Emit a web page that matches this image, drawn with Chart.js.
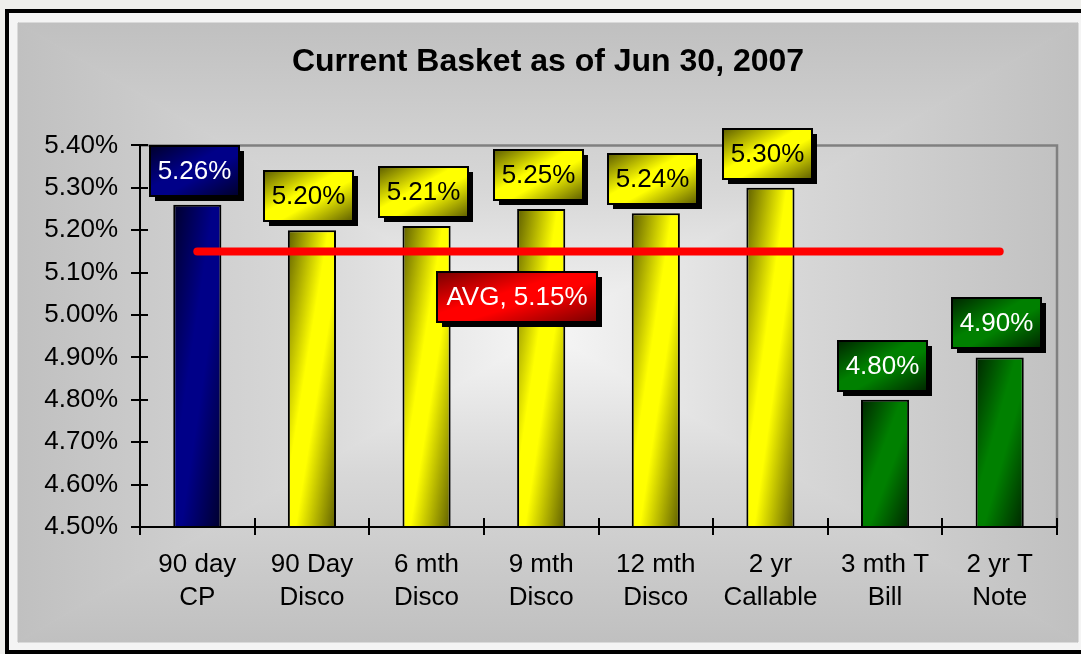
<!DOCTYPE html>
<html>
<head>
<meta charset="utf-8">
<title>Current Basket as of Jun 30, 2007</title>
<script src="https://cdn.jsdelivr.net/npm/chart.js@4.4.0/dist/chart.umd.min.js"></script>
<style>
    html, body { margin: 0; padding: 0; background: #efefec; }
    canvas { display: block; }
</style>
</head>
<body>
<canvas id="basketChart" width="1081" height="654"></canvas>
<script>
// Basket data
const categories = [
    ['90 day', 'CP'],
    ['90 Day', 'Disco'],
    ['6 mth', 'Disco'],
    ['9 mth', 'Disco'],
    ['12 mth', 'Disco'],
    ['2 yr', 'Callable'],
    ['3 mth T', 'Bill'],
    ['2 yr T', 'Note']
];
const rates = [5.26, 5.20, 5.21, 5.25, 5.24, 5.30, 4.80, 4.90];
const groups = ['cp', 'disco', 'disco', 'disco', 'disco', 'disco', 'treasury', 'treasury'];
const average = 5.15;
const averageLine = categories.map(() => average);

// Axis range
const yMin = 4.5;
const yMax = 5.4;
const yStep = 0.1;

// Where the AVG tag sits along the category axis
const avgLabelAt = 2.79;

const FONT = "'Liberation Sans', Arial, sans-serif";
const BAR_FRACTION = 0.42;

const palettes = {
    cp:       { dark: '#00002c', light: '#000088', text: '#ffffff' },
    disco:    { dark: '#5e5e00', light: '#ffff00', text: '#000000' },
    treasury: { dark: '#002600', light: '#008000', text: '#ffffff' },
    avg:      { dark: '#780000', light: '#ff0000', text: '#ffffff' }
};

// Diagonal shading: dark corner -> bright middle -> dark corner, stretched to the box
function diagGradient(ctx, x0, y0, w, h, pal) {
    const gx = 1 / (2 * w);
    const gy = 1 / (2 * h);
    const n = gx * gx + gy * gy;
    const g = ctx.createLinearGradient(x0, y0, x0 + gx / n, y0 + gy / n);
    g.addColorStop(0, pal.dark);
    g.addColorStop(0.42, pal.light);
    g.addColorStop(0.58, pal.light);
    g.addColorStop(1, pal.dark);
    return g;
}

// Gray panel shaded from the center outwards
function boxShade(ctx, x0, y0, w, h) {
    const cx = x0 + w / 2, cy = y0 + h / 2;
    const corners = [[x0, y0], [x0 + w, y0], [x0 + w, y0 + h], [x0, y0 + h]];
    const mids = [[cx, y0], [x0 + w, cy], [cx, y0 + h], [x0, cy]];
    for (let k = 0; k < 4; k++) {
        const a = corners[k], b = corners[(k + 1) % 4], m = mids[k];
        const g = ctx.createLinearGradient(cx, cy, m[0], m[1]);
        g.addColorStop(0, '#f6f6f6');
        g.addColorStop(0.45, '#d8d8d8');
        g.addColorStop(1, '#c0c0c0');
        ctx.beginPath();
        ctx.moveTo(cx, cy);
        ctx.lineTo(a[0], a[1]);
        ctx.lineTo(b[0], b[1]);
        ctx.closePath();
        ctx.fillStyle = g;
        ctx.strokeStyle = g;
        ctx.lineWidth = 1;
        ctx.fill();
        ctx.stroke();
    }
}

// Label tag with a hard drop shadow
function drawTag(ctx, cx, cy, w, h, text, pal) {
    const x0 = Math.round(cx - w / 2);
    const y0 = Math.round(cy - h / 2);
    ctx.save();
    ctx.fillStyle = '#000';
    ctx.fillRect(x0 + 5, y0 + 5, w, h);
    ctx.fillStyle = diagGradient(ctx, x0, y0, w, h, pal);
    ctx.fillRect(x0, y0, w, h);
    ctx.lineWidth = 2;
    ctx.strokeStyle = '#000';
    ctx.strokeRect(x0, y0, w, h);
    ctx.fillStyle = pal.text;
    ctx.font = '26px ' + FONT;
    ctx.textAlign = 'center';
    ctx.textBaseline = 'middle';
    ctx.fillText(text, x0 + w / 2, y0 + h / 2 + 1);
    ctx.restore();
}

const backdrop = {
    id: 'backdrop',
    beforeDraw(chart) {
        const { ctx, width, height } = chart;
        ctx.save();
        ctx.fillStyle = '#efefec';
        ctx.fillRect(0, 0, width, height);
        ctx.fillStyle = '#f4f4f4';
        ctx.fillRect(9, 13, width - 9, height - 16);
        // black frame
        ctx.fillStyle = '#000';
        ctx.fillRect(5, 9, width - 5, 4);
        ctx.fillRect(5, 9, 4, height - 9);
        ctx.fillRect(5, height - 4, width - 5, 4);
        boxShade(ctx, 18, 23, 1060, 619);
        ctx.restore();
    }
};

const plotFrame = {
    id: 'plotFrame',
    beforeDatasetsDraw(chart) {
        const { ctx, chartArea: a } = chart;
        ctx.save();
        ctx.strokeStyle = '#808080';
        ctx.lineWidth = 2.5;
        ctx.beginPath();
        ctx.moveTo(a.left, a.top);
        ctx.lineTo(a.right, a.top);
        ctx.lineTo(a.right, a.bottom);
        ctx.stroke();
        ctx.restore();
    }
};

// Axis lines with tick marks crossing them
const axisLines = {
    id: 'axisLines',
    afterDatasetsDraw(chart) {
        const { ctx, chartArea: a, scales: { x, y } } = chart;
        ctx.save();
        ctx.strokeStyle = '#000';
        ctx.lineWidth = 2;
        ctx.beginPath();
        ctx.moveTo(a.left, a.top);
        ctx.lineTo(a.left, a.bottom);
        ctx.lineTo(a.right, a.bottom);
        y.ticks.forEach((t, i) => {
            const py = Math.round(y.getPixelForTick(i));
            ctx.moveTo(a.left - 9, py);
            ctx.lineTo(a.left + 8, py);
        });
        for (let i = 0; i <= categories.length; i++) {
            const px = Math.round(x.getPixelForValue(i - 0.5));
            ctx.moveTo(px, a.bottom - 9);
            ctx.lineTo(px, a.bottom + 8);
        }
        ctx.stroke();
        ctx.restore();
    }
};

const valueTags = {
    id: 'valueTags',
    afterDatasetsDraw(chart) {
        const ctx = chart.ctx;
        const meta = chart.getDatasetMeta(0);
        meta.data.forEach((bar, i) => {
            drawTag(ctx, bar.x - 3, bar.y - 9 - 25, 89, 50, rates[i].toFixed(2) + '%', palettes[groups[i]]);
        });
        const { x, y } = chart.scales;
        drawTag(ctx, x.getPixelForValue(avgLabelAt), y.getPixelForValue(average) + 46, 160, 50,
            'AVG, ' + average.toFixed(2) + '%', palettes.avg);
    }
};

const ctx = document.getElementById('basketChart').getContext('2d');
new Chart(ctx, {
    type: 'bar',
    data: {
        labels: categories,
        datasets: [
            {
                label: 'Rate',
                data: rates,
                yAxisID: 'y',
                order: 1,
                backgroundColor: (c) => {
                    const pal = palettes[groups[c.dataIndex]];
                    const chart = c.chart;
                    if (c.type !== 'data' || !chart.chartArea) return pal.light;
                    const { x, y } = chart.scales;
                    const w = (x.getPixelForValue(1) - x.getPixelForValue(0)) * BAR_FRACTION;
                    const left = x.getPixelForValue(c.dataIndex) - w / 2;
                    const top = y.getPixelForValue(rates[c.dataIndex]);
                    return diagGradient(chart.ctx, left, top, w, y.bottom - top, pal);
                },
                borderColor: '#000',
                borderWidth: 2,
                categoryPercentage: 1,
                barPercentage: BAR_FRACTION
            },
            {
                type: 'line',
                label: 'AVG',
                data: averageLine,
                yAxisID: 'y',
                order: 0,
                borderColor: '#ff0000',
                borderWidth: 8,
                borderCapStyle: 'round',
                pointRadius: 0,
                pointHoverRadius: 0,
                fill: false
            }
        ]
    },
    options: {
        responsive: false,
        animation: false,
        devicePixelRatio: 1,
        events: [],
        layout: {
            padding: { left: 18, right: 3, top: 0, bottom: 40 }
        },
        plugins: {
            legend: { display: false },
            tooltip: { enabled: false },
            title: {
                display: true,
                text: 'Current Basket as of Jun 30, 2007',
                color: '#000',
                font: { family: FONT, size: 32, weight: 'bold', lineHeight: 1.2 },
                padding: { top: 43, bottom: 64 }
            }
        },
        scales: {
            x: {
                grid: { display: false, drawTicks: false },
                border: { display: false },
                ticks: {
                    color: '#000',
                    font: { family: FONT, size: 26, lineHeight: 1.27 },
                    padding: 21,
                    maxRotation: 0,
                    autoSkip: false
                },
                afterFit: (scale) => { scale.height = 87; }
            },
            y: {
                min: yMin,
                max: yMax,
                grid: { display: false, drawTicks: false },
                border: { display: false },
                ticks: {
                    stepSize: yStep,
                    color: '#000',
                    font: { family: FONT, size: 26 },
                    padding: 22,
                    callback: (v) => v.toFixed(2) + '%'
                },
                afterFit: (scale) => { scale.width = 122; }
            },
            y2: {
                position: 'right',
                grid: { display: false, drawTicks: false },
                border: { display: false },
                ticks: { display: false },
                afterFit: (scale) => { scale.width = 21; }
            }
        }
    },
    plugins: [backdrop, plotFrame, axisLines, valueTags]
});
</script>
</body>
</html>
